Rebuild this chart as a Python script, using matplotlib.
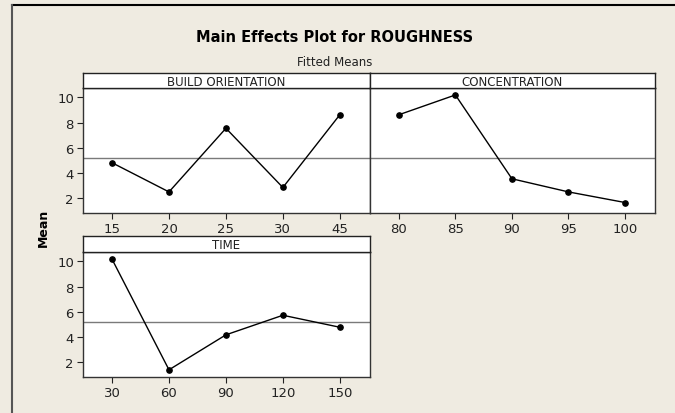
import matplotlib
matplotlib.use("Agg")
import matplotlib.pyplot as plt
from matplotlib.lines import Line2D

# factor levels and fitted means
orient_levels = ["15", "20", "25", "30", "45"]
orient_means = [4.83, 2.52, 7.56, 2.87, 8.63]

conc_levels = ["80", "85", "90", "95", "100"]
conc_means = [8.63, 10.2, 3.56, 2.52, 1.68]

time_levels = ["30", "60", "90", "120", "150"]
time_means = [10.18, 1.42, 4.19, 5.74, 4.79]

grand_mean = 5.18

W, H = 675, 414
bg = "#efebe1"

fig = plt.figure(figsize=(W / 100, H / 100), dpi=100, facecolor=bg)


def px_axes(x0, y0, x1, y1):
    # pixel box (top-left origin) -> figure axes
    return fig.add_axes([x0 / W, 1 - y1 / H, (x1 - x0) / W, (y1 - y0) / H])


def panel(box, strip_top, name, levels, means, show_y=True):
    x0, y0, x1, y1 = box
    ax = px_axes(x0, y0, x1, y1)
    pos = list(range(1, len(levels) + 1))
    ax.axhline(grand_mean, color="#7a7a7a", lw=1.0, zorder=1)
    ax.plot(pos, means, color="black", lw=1.0, marker="o", ms=3.8, zorder=3)
    ax.set_xlim(0.49, 5.53)
    ax.set_ylim(0.85, 10.75)
    ax.set_xticks(pos)
    ax.set_xticklabels(levels)
    ax.set_yticks([2, 4, 6, 8, 10])
    if not show_y:
        ax.tick_params(axis="y", left=False, labelleft=False)
    ax.tick_params(direction="out", length=4, width=0.8, labelsize=9.5,
                   colors="#222222", pad=2.5)
    for s in ax.spines.values():
        s.set_color("#333333")
        s.set_linewidth(1.0)
    ax.set_facecolor("white")

    st = px_axes(x0, strip_top, x1, y0)
    st.set_xticks([])
    st.set_yticks([])
    st.set_facecolor("white")
    for s in st.spines.values():
        s.set_color("#222222")
        s.set_linewidth(1.0)
    st.text(0.5, 0.45, name, ha="center", va="center", fontsize=8.5,
            color="#222222", transform=st.transAxes)
    return ax


panel((83, 89, 370, 214), 74, "BUILD ORIENTATION", orient_levels, orient_means)
panel((370, 89, 655, 214), 74, "CONCENTRATION", conc_levels, conc_means,
      show_y=False)
panel((83, 253, 370, 378), 237, "TIME", time_levels, time_means)

fig.text(335 / W, 1 - 37 / H, "Main Effects Plot for ROUGHNESS", ha="center",
         va="center", fontsize=10.5, fontweight="bold")
fig.text(335 / W, 1 - 62 / H, "Fitted Means", ha="center", va="center",
         fontsize=8.5, color="#222222")
fig.text(43 / W, 1 - 228 / H, "Mean", ha="center", va="center", rotation=90,
         fontsize=9, fontweight="bold")

# outer frame: top and left edges
fig.add_artist(Line2D([12 / W, 1], [1 - 6 / H, 1 - 6 / H], color="black",
                      lw=1.5, transform=fig.transFigure))
fig.add_artist(Line2D([12 / W, 12 / W], [0, 1 - 6 / H], color="#555555",
                      lw=1.5, transform=fig.transFigure))

fig.savefig("out.png", dpi=100, facecolor=bg)
